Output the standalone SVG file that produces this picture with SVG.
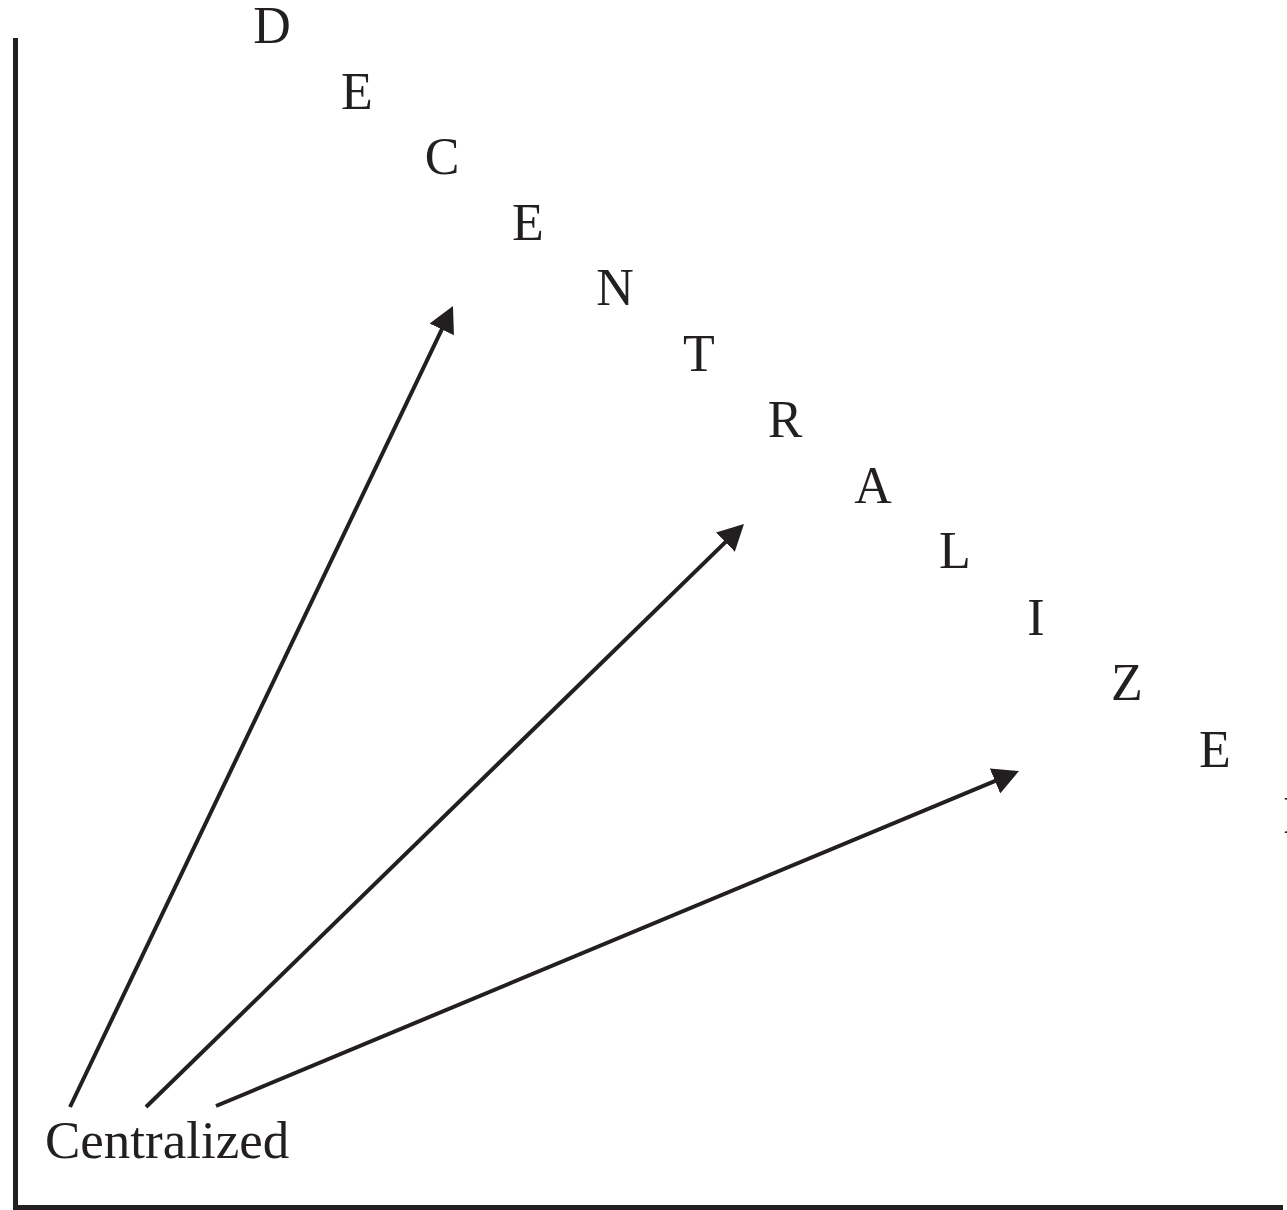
<svg xmlns="http://www.w3.org/2000/svg" width="1287" height="1210" viewBox="0 0 1287 1210">
<style>
.t{font-family:"Liberation Serif","Times New Roman",serif;font-size:52px;fill:#231f20;text-anchor:middle}
.ax{stroke:#231f20;stroke-width:5;fill:none}
.ar{stroke:#231f20;stroke-width:4;fill:none;marker-end:url(#ah)}
</style>
<defs>
<marker id="ah" viewBox="0 0 26 27" refX="14" refY="13.5" markerWidth="26" markerHeight="27" markerUnits="userSpaceOnUse" orient="auto">
<path d="M0,0 L26,13.5 L0,27 z" fill="#231f20"/>
</marker>
</defs>
<rect width="1287" height="1210" fill="#fff"/>
<g id="axes">
<path class="ax" d="M15.5,38 V1207.5 H1283"/>
</g>
<g id="decentralized">
<text class="t" x="272" y="43">D</text>
<text class="t" x="357" y="109">E</text>
<text class="t" x="442" y="174">C</text>
<text class="t" x="528" y="240">E</text>
<text class="t" x="615" y="305">N</text>
<text class="t" x="699" y="371">T</text>
<text class="t" x="785" y="437">R</text>
<text class="t" x="873" y="503">A</text>
<text class="t" x="955" y="568">L</text>
<text class="t" x="1036" y="635">I</text>
<text class="t" x="1127" y="700">Z</text>
<text class="t" x="1215" y="767">E</text>
<text class="t" x="1302" y="833">D</text>
</g>
<g id="centralized">
<text class="t" x="45" y="1158" style="text-anchor:start;font-size:53px">Centralized</text>
</g>
<g id="connectors">
<line class="ar" x1="70" y1="1107" x2="447.8" y2="316.8"/>
<line class="ar" x1="146" y1="1107" x2="735.4" y2="532.4"/>
<line class="ar" x1="216" y1="1106" x2="1007.9" y2="775.6"/>
</g>
</svg>
